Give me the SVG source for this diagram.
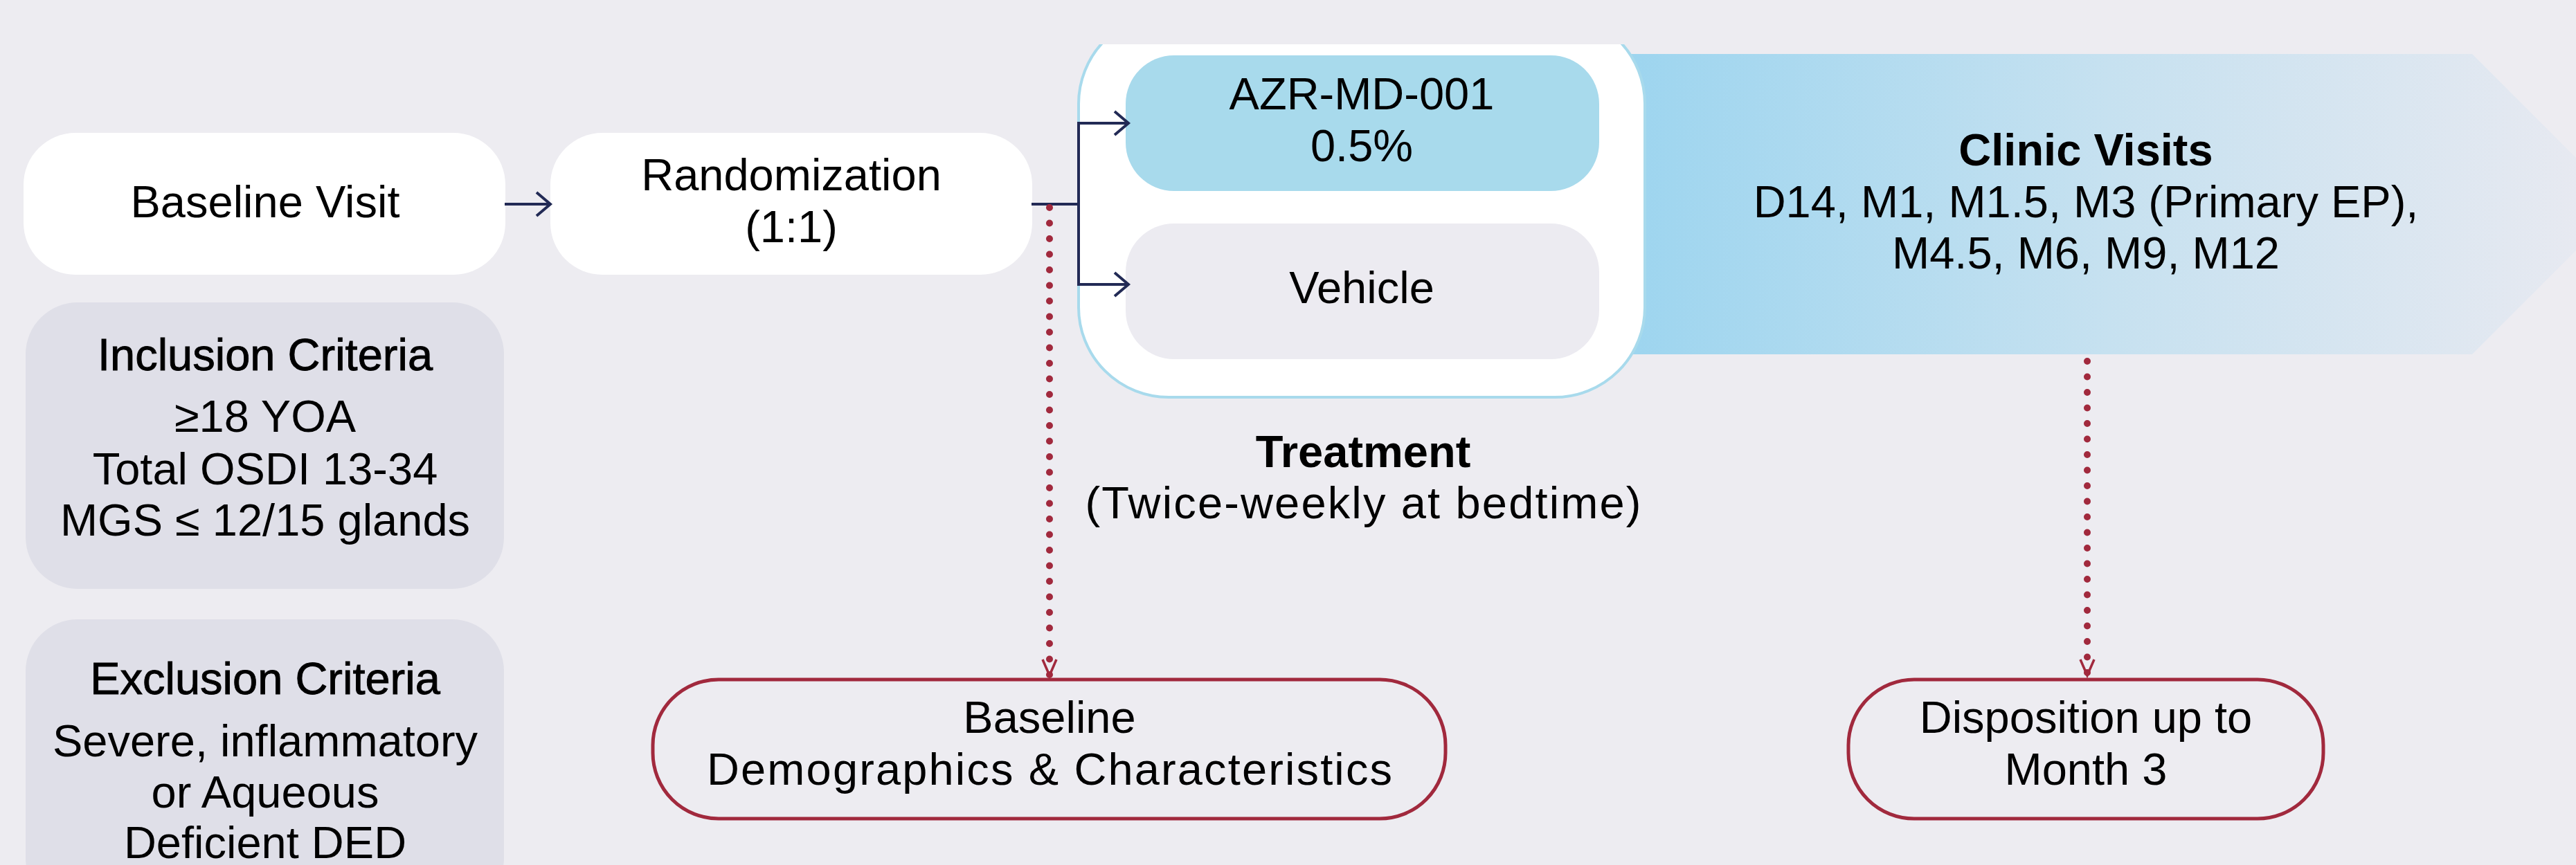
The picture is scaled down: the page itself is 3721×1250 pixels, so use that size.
<svg xmlns="http://www.w3.org/2000/svg" width="3721" height="1250" viewBox="0 0 3721 1250">
<style>
text{font-family:"Liberation Sans",Arial,sans-serif;font-size:65px;fill:#000;text-anchor:middle}
.b{font-weight:bold}
.h{stroke:#000;stroke-width:0.9}
.white{fill:#FFFFFF}
.crit{fill:#DFDFE8}
.out{fill:none;stroke:#A1293D;stroke-width:5}
.nav{fill:none;stroke:#222A55;stroke-width:4}
.dot{fill:none;stroke:#A1293D;stroke-width:10;stroke-linecap:round;stroke-dasharray:0 22.5}
</style>
<defs>
<linearGradient id="cg" x1="0" y1="0" x2="1" y2="0">
<stop offset="0" stop-color="#9AD4EF"/>
<stop offset="0.5" stop-color="#C6E1F0"/>
<stop offset="1" stop-color="#EAEAF1"/>
</linearGradient>
<clipPath id="clipTop"><rect x="0" y="64" width="3721" height="1186"/></clipPath>
<marker id="an" markerUnits="userSpaceOnUse" viewBox="-24 -22 30 44" refX="0" refY="0" markerWidth="30" markerHeight="44" orient="auto">
<path d="M-20,-17 L0,0 L-20,17" fill="none" stroke="#222A55" stroke-width="4"/>
</marker>
<marker id="ar" markerUnits="userSpaceOnUse" viewBox="-28 -16 34 32" refX="0" refY="0" markerWidth="34" markerHeight="32" orient="auto">
<path d="M-23,-10 L0,0 L-23,10" fill="none" stroke="#A1293D" stroke-width="3.5"/>
</marker>
</defs>
<rect x="0" y="0" width="3721" height="1250" fill="#EDECF1"/>

<g id="clinic-visits">
<polygon points="2300,78 3571,78 3788,295 3571,512 2300,512" fill="url(#cg)"/>
<text class="b" x="3013" y="239">Clinic Visits</text>
<text x="3013" y="314">D14, M1, M1.5, M3 (Primary EP),</text>
<text x="3013" y="388">M4.5, M6, M9, M12</text>
</g>

<g id="treatment">
<rect x="1558" y="20" width="818" height="554" rx="130" ry="130" fill="#FFFFFF" stroke="#A8DAEC" stroke-width="4" clip-path="url(#clipTop)"/>
<text class="b" x="1969" y="675">Treatment</text>
<text x="1969" y="749" textLength="803" lengthAdjust="spacing">(Twice-weekly at bedtime)</text>
</g>

<g id="azr">
<rect x="1626" y="80" width="684" height="196" rx="70" ry="70" fill="#A8DAEC"/>
<text x="1967" y="158">AZR-MD-001</text>
<text x="1967" y="233">0.5%</text>
</g>

<g id="vehicle">
<rect x="1626" y="323" width="684" height="196" rx="70" ry="70" fill="#ECEBF1"/>
<text x="1967" y="438">Vehicle</text>
</g>

<g id="baseline-visit">
<rect x="34" y="192" width="696" height="205" rx="75" ry="75" class="white"/>
<text x="383" y="314">Baseline Visit</text>
</g>

<g id="randomization">
<rect x="795" y="192" width="696" height="205" rx="75" ry="75" class="white"/>
<text x="1143" y="275">Randomization</text>
<text x="1143" y="350">(1:1)</text>
</g>

<g id="inclusion">
<rect x="37" y="437" width="691" height="414" rx="75" ry="75" class="crit"/>
<text class="h" x="383" y="535">Inclusion Criteria</text>
<text x="383" y="624">≥18 YOA</text>
<text x="383" y="700">Total OSDI 13-34</text>
<text x="383" y="774">MGS ≤ 12/15 glands</text>
</g>

<g id="exclusion">
<rect x="37" y="895" width="691" height="420" rx="75" ry="75" class="crit"/>
<text class="h" x="383" y="1003">Exclusion Criteria</text>
<text x="383" y="1093">Severe, inflammatory</text>
<text x="383" y="1167">or Aqueous</text>
<text x="383" y="1240">Deficient DED</text>
</g>

<g id="baseline-demographics">
<rect x="943" y="982" width="1145" height="201" rx="95" ry="95" fill="#EDECF1" class="out"/>
<text x="1516" y="1059">Baseline</text>
<text x="1516" y="1134" textLength="990" lengthAdjust="spacing">Demographics &amp; Characteristics</text>
</g>

<g id="disposition">
<rect x="2670" y="982" width="686" height="201" rx="95" ry="95" fill="#EDECF1" class="out"/>
<text x="3013" y="1059">Disposition up to</text>
<text x="3013" y="1134">Month 3</text>
</g>

<g id="connectors">
<line x1="729" y1="295" x2="795" y2="295" class="nav" marker-end="url(#an)"/>
<polyline points="1490,295 1558,295" class="nav"/>
<line x1="1558" y1="176" x2="1558" y2="413" class="nav"/>
<line x1="1556" y1="178" x2="1630" y2="178" class="nav" marker-end="url(#an)"/>
<line x1="1556" y1="411" x2="1630" y2="411" class="nav" marker-end="url(#an)"/>
<line x1="1516" y1="300" x2="1516" y2="976" class="dot" marker-end="url(#ar)"/>
<line x1="3015" y1="522" x2="3015" y2="976" class="dot" marker-end="url(#ar)"/>
</g>
</svg>
